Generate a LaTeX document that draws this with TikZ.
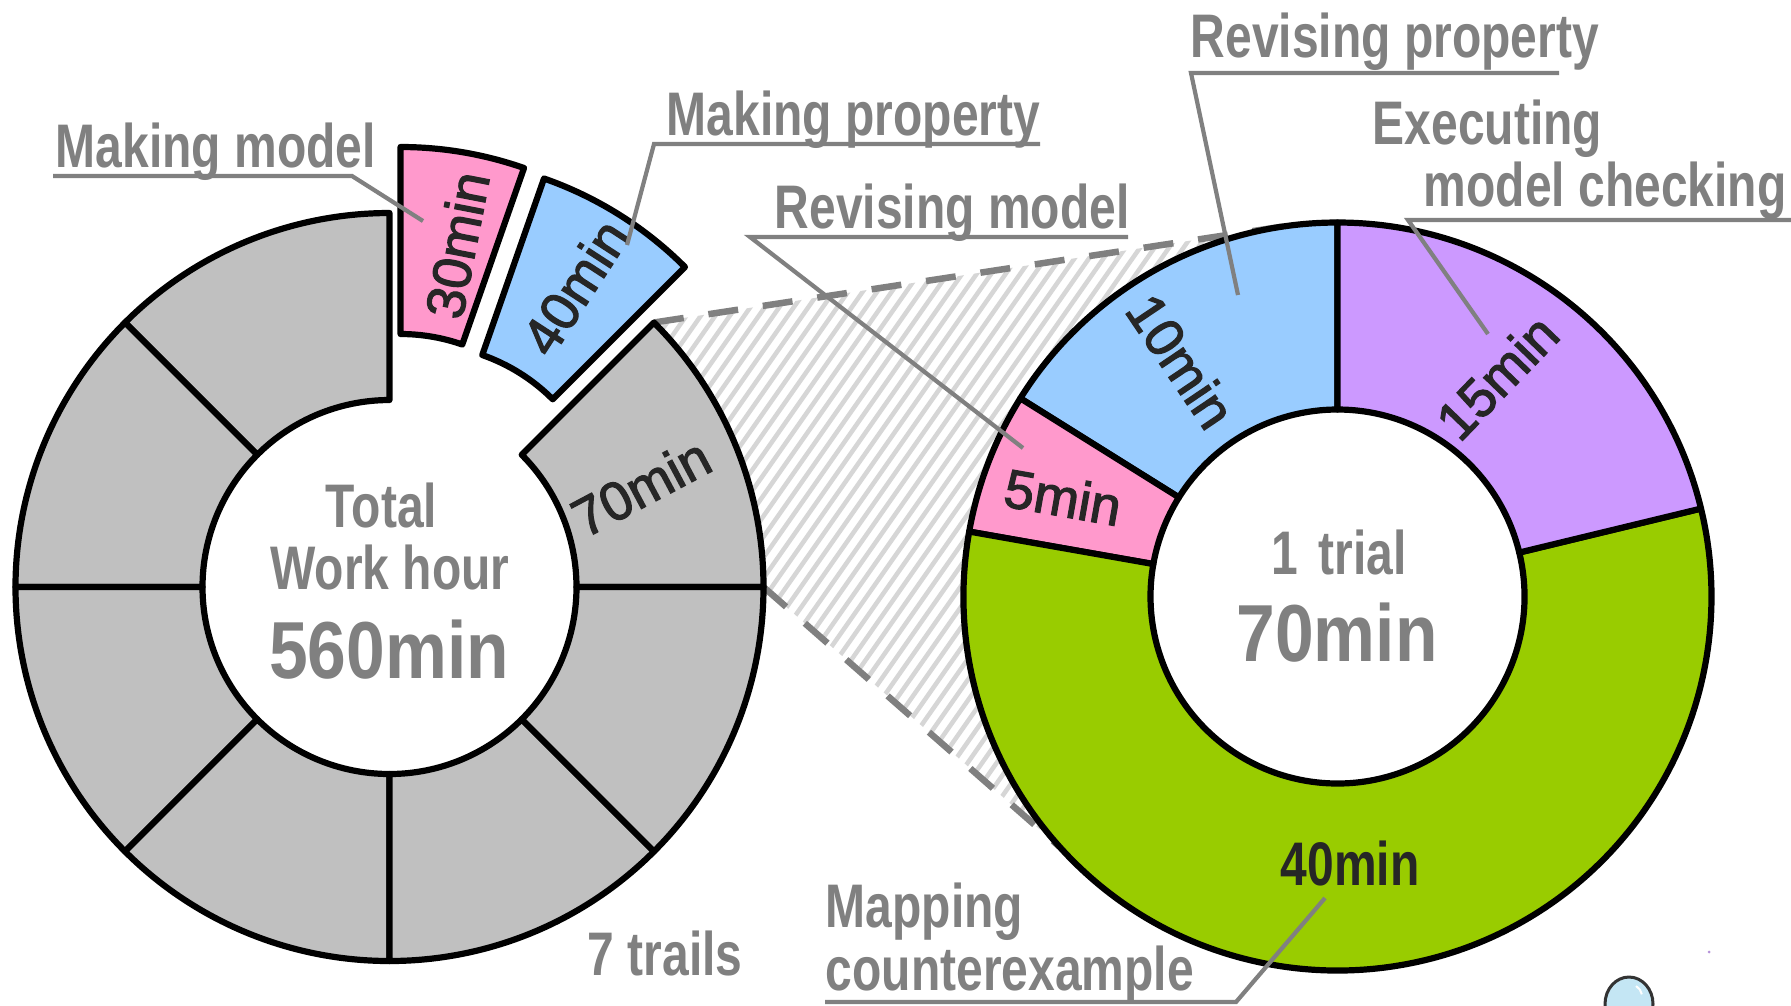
\documentclass[tikz,border=0pt]{standalone}
\usepackage{fontspec}
\setmainfont{Liberation Sans}
% condensed faces for the grey captions and the large totals
\newfontfamily\lblfont{Liberation Sans}[FakeStretch=0.78]
\newfontfamily\bigfont{Liberation Sans}[FakeStretch=0.86]
% heavier face for the minute values inside the rings
\newfontfamily\segfont{Liberation Sans}[FakeBold=2.2]

\definecolor{pinkseg}{RGB}{255,153,204}
\definecolor{blueseg}{RGB}{153,204,255}
\definecolor{purpleseg}{RGB}{204,153,255}
\definecolor{greenseg}{RGB}{153,204,0}
\definecolor{grayseg}{RGB}{192,192,192}
\definecolor{labelgray}{RGB}{128,128,128}
\definecolor{darktext}{RGB}{38,38,38}
\definecolor{hatchgray}{RGB}{214,214,214}
\definecolor{bubble}{RGB}{196,230,244}

\newcommand{\Rout}{374}
\newcommand{\Rin}{187}
% ring sector: centre, start angle, end angle, fill colour
\newcommand{\ringpiece}[4]{%
  \path[seg,fill=#4,shift={#1}] (#2:\Rout) arc[start angle=#2,end angle=#3,radius=\Rout]
    -- (#3:\Rin) arc[start angle=#3,end angle=#2,radius=\Rin] -- cycle;}

\tikzset{
  seg/.style={draw=black,line width=0.062cm,line join=round},
  callout/.style={draw=labelgray,line width=0.042cm,line join=miter},
  zoomline/.style={draw=labelgray,line width=0.065cm,dash pattern=on 0.3cm off 0.25cm},
  lbl/.style={text=labelgray,inner sep=0pt,font=\lblfont\bfseries\fontsize{17.5}{20}\selectfont},
  big/.style={text=labelgray,inner sep=0pt,font=\bigfont\bfseries\fontsize{23}{26}\selectfont},
  segtxt/.style={text=darktext,inner sep=0pt,font=\segfont\fontsize{15.4}{17}\selectfont},
}

\begin{document}
\begin{tikzpicture}[x=0.01cm,y=0.01cm]
\useasboundingbox (0,0) rectangle (1791,-1005);
\fill[white] (0,0) rectangle (1791,-1005);

% centres of the two rings
\coordinate (L) at (389.5,-587);
\coordinate (R) at (1337.5,-596.5);
% ends of the zoom lines
\coordinate (zoomTopL) at (654,-322.5);
\coordinate (zoomBotL) at (763.5,-587);
\coordinate (zoomTopR) at (1285.45,-226.1);
\coordinate (zoomBotR) at (1059.6,-846.8);

% hatched zoom wedge
\begin{scope}
  \clip (zoomTopL) -- (zoomTopR) -- (1298.5,-319.2)
        arc[start angle=98,end angle=222,radius=280]
        -- (zoomBotR) -- (zoomBotL)
        arc[start angle=0,end angle=45,radius=\Rout] -- cycle;
  \foreach \k in {0,...,110}{
    \draw[hatchgray,line width=0.045cm] (-130+14.5*\k,-1005) -- ++(704,1005);
  }
\end{scope}
\draw[zoomline] (zoomTopL) -- (zoomTopR);
\draw[zoomline] (zoomBotL) -- (zoomBotR);

% left ring: seven trials
\foreach \a in {0,90,135,180,225,270,315}{
  \ringpiece{(L)}{\a}{\a+45}{grayseg}
}
% first trial split out of its slot
\ringpiece{(400.5,-521)}{70.714}{90}{pinkseg}
\ringpiece{(420.5,-531.5)}{45}{70.714}{blueseg}

% right ring: one trial
\ringpiece{(R)}{90}{148}{blueseg}
\ringpiece{(R)}{148}{170}{pinkseg}
\ringpiece{(R)}{170}{373.6}{greenseg}
\ringpiece{(R)}{13.6}{90}{purpleseg}

% minute values
\node[segtxt,rotate=79] (t30) at (457,-245) {30min};
\node[segtxt,rotate=57] (t40) at (575,-287) {40min};
\node[segtxt,rotate=28] (t70) at (641,-487) {70min};
\node[segtxt,rotate=-56] (t10) at (1181,-361) {10min};
\node[segtxt,rotate=46] (t15) at (1497,-377) {15min};
\node[segtxt,rotate=-10] (t5) at (1063,-497) {5min};
\node[lbl,anchor=base,text=darktext] (t40g) at (1350,-885) {40min};

% centre texts
\node[lbl,anchor=base] (total) at (381.5,-527) {Total};
\node[lbl,anchor=base] (work) at (390,-589) {Work hour};
\node[big,anchor=base] (sum) at (389,-678) {560min};
\node[lbl,anchor=base] (trial) at (1339,-574) {1\kern0.12em\ trial};
\node[big,anchor=base] (trialmin) at (1337,-661) {70min};
\node[lbl,anchor=base west] (trails) at (587,-975) {7 trails};

% captions
\node[lbl,anchor=base west] (mkmodel) at (55,-167) {Making model};
\node[lbl,anchor=base west] (mkprop) at (666,-135) {Making property};
\node[lbl,anchor=base west] (rvmodel) at (774,-228) {Revising model};
\node[lbl,anchor=base west] (rvprop) at (1190,-57) {Revising property};
\node[lbl,anchor=base west] (exec1) at (1372,-144) {Executing};
\node[lbl,anchor=base west] (exec2) at (1423,-206) {model checking};
\node[lbl,anchor=base west] (map1) at (825,-927) {Mapping};
\node[lbl,anchor=base west] (map2) at (825,-990) {counterexample};

% leader lines: underline start, bend, tip
\coordinate (mkmodelA) at (53,-176);   \coordinate (mkmodelB) at (352,-176);  \coordinate (mkmodelC) at (423,-221);
\coordinate (mkpropA) at (1040,-144);  \coordinate (mkpropB) at (654,-144);   \coordinate (mkpropC) at (627,-245);
\coordinate (rvmodelA) at (1128,-237); \coordinate (rvmodelB) at (750,-237);  \coordinate (rvmodelC) at (1023,-448);
\coordinate (rvpropA) at (1559,-73);   \coordinate (rvpropB) at (1191,-73);   \coordinate (rvpropC) at (1238,-295);
\coordinate (execA) at (1791,-220);    \coordinate (execB) at (1408,-220);    \coordinate (execC) at (1488,-334);
\coordinate (mapA) at (825,-1002);     \coordinate (mapB) at (1236,-1002);    \coordinate (mapC) at (1325,-898);
\draw[callout] (mkmodelA) -- (mkmodelB) -- (mkmodelC);
\draw[callout] (mkpropA) -- (mkpropB) -- (mkpropC);
\draw[callout] (rvmodelA) -- (rvmodelB) -- (rvmodelC);
\draw[callout] (rvpropA) -- (rvpropB) -- (rvpropC);
\draw[callout] (execA) -- (execB) -- (execC);
\draw[callout] (mapA) -- (mapB) -- (mapC);

% small bubble at the lower edge
\begin{scope}
  \clip (0,0) rectangle (1791,-1005);
  \draw[black!80,line width=0.03cm,fill=bubble] (1629,-1004) ellipse (24 and 27);
  \draw[white,line width=0.02cm] (1636,-986) arc[start angle=60,end angle=10,radius=12];
\end{scope}
\fill[purpleseg!70!gray] (1709,-952) circle (1.5);
\end{tikzpicture}
\end{document}
